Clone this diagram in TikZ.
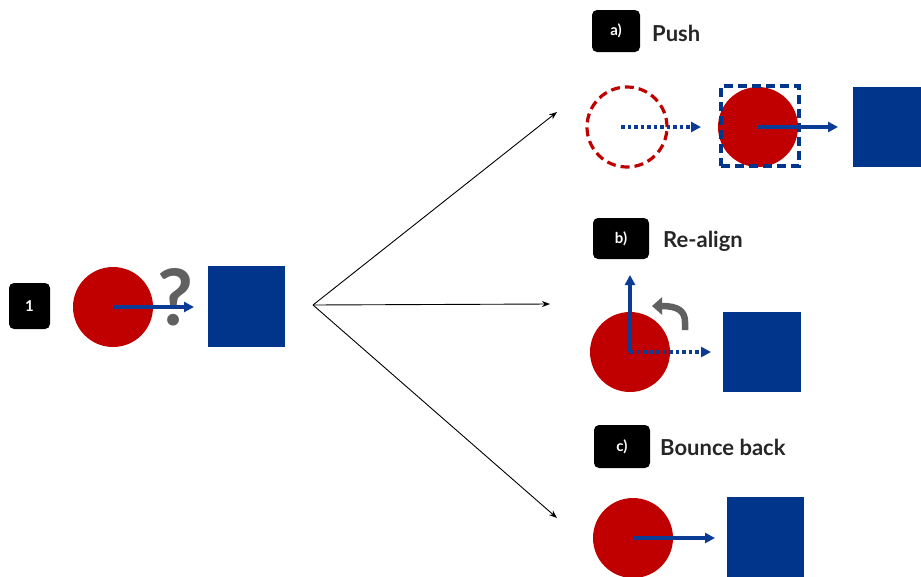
\documentclass[tikz,border=0pt]{standalone}
\usepackage{fontspec}
\setmainfont{Lato}
\usetikzlibrary{arrows.meta}
\definecolor{cred}{RGB}{192,0,0}
\definecolor{cblue}{RGB}{0,53,140}
\definecolor{ablue}{RGB}{10,60,150}
\definecolor{cgray}{RGB}{96,96,96}
\tikzset{
  ball/.style={circle,fill=cred,minimum size=80pt,inner sep=0pt},
  ghost/.style={circle,draw=cred,line width=3.2pt,dash pattern=on 9pt off 5pt,minimum size=80pt,inner sep=0pt},
  block/.style={fill=cblue,minimum width=78pt,minimum height=80pt,inner sep=0pt},
  tag/.style={fill=black,rounded corners=5pt,text=white,font=\bfseries\fontsize{15}{15}\selectfont,minimum width=48pt,minimum height=42pt,inner sep=0pt},
  title/.style={anchor=west,font=\fontsize{22}{22}\selectfont\bfseries,text=black!85,inner sep=0pt},
  push/.style={ablue,line width=3.2pt,-{Triangle[length=10pt,width=10pt]}},
  pushdot/.style={push,dash pattern=on 3.5pt off 3pt},
  fan/.style={black,line width=0.9pt,-{Stealth[length=8pt,width=6pt]}}
}
\begin{document}
\begin{tikzpicture}[x=1pt,y=-1pt]
\useasboundingbox (0,0) rectangle (921,576);
% left part
\node[tag,minimum width=41pt,minimum height=46pt] (t1) at (29.5,306) {1};
\node[ball] (b0) at (113,307) {};
\node[text=cgray,font=\bfseries\fontsize{78}{78}\selectfont,inner sep=0pt] (q) at (175,297) {?};
\node[block,minimum width=77pt,minimum height=81pt] (s0) at (246.5,306.5) {};
\coordinate (b0a) at (194,307);
\draw[push] (b0.center) -- (b0a);
% fan
\coordinate (o) at (313,305);
\coordinate (ea) at (557,112);
\coordinate (eb) at (550,304);
\coordinate (ec) at (557,518);
\draw[fan] (o) -- (ea);
\draw[fan] (o) -- (eb);
\draw[fan] (o) -- (ec);
% a) push
\node[tag] (ta) at (616,31) {a)};
\node[title] (la) at (652,33) {Push};
\node[ghost] (ga) at (627,127) {};
\node[ball] (ba) at (758,127) {};
\node[draw=cblue,line width=3.2pt,dash pattern=on 9pt off 5pt,minimum width=78pt,minimum height=80pt,inner sep=0pt] (da) at (760,126) {};
\node[block,minimum width=70pt,anchor=west] (sa) at (853,127) {};
\coordinate (gaa) at (621,127);
\coordinate (gab) at (701,127);
\draw[pushdot] (gaa) -- (gab);
\coordinate (baa) at (838,127);
\draw[push] (ba.center) -- (baa);
% b) re-align
\node[tag,minimum width=56pt,minimum height=41pt] (tb) at (621,238.5) {b)};
\node[title] (lb) at (663,241) {Re-align};
\node[ball] (bb) at (630,352) {};
\node[block] (sb) at (762,351.5) {};
\coordinate (bbu) at (630,275);
\coordinate (bbr) at (711,352);
\draw[pushdot] (bb.center) -- (bbr);
\draw[push] (bb.center) -- (bbu);
\coordinate (rs) at (685,330);
\coordinate (re) at (652,306);
\draw[cgray,line width=6.5pt,-{Triangle[length=10pt,width=17pt]}] (rs) -- (685,322) .. controls (685,311) and (678,306) .. (re);
% c) bounce back
\node[tag,minimum width=56pt,minimum height=43pt] (tc) at (622,446.5) {c)};
\node[title] (lc) at (660,447) {Bounce back};
\node[ball] (bc) at (633,538) {};
\node[block,minimum width=77pt,anchor=north west] (sc) at (727,497) {};
\coordinate (bca) at (715,538);
\draw[push] (bc.center) -- (bca);
\end{tikzpicture}
\end{document}
